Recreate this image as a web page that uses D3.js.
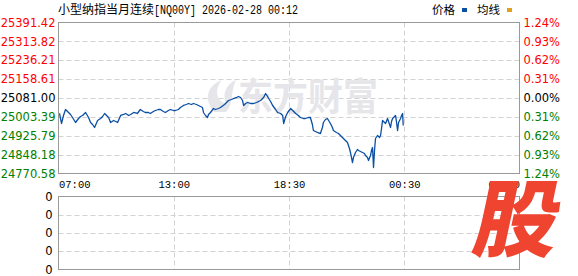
<!DOCTYPE html>
<html>
<head>
<meta charset="utf-8">
<script src="https://cdn.jsdelivr.net/npm/d3@7"></script>
<style>
body { margin: 0; background: #fff; }
svg { display: block; }
</style>
</head>
<body>
<div id="chart"></div>
<script>
// chart data
var titleName = "小型纳指当月连续";
var titleCode = "[NQ00Y] 2026-02-28 00:12";
var legendNames = ["价格", "均线"];
var legendColors = ["#0b4fa3", "#e0a21c"];
var preClose = 25081.00;
var priceTicks = [25391.42, 25313.82, 25236.21, 25158.61, 25081.00, 25003.39, 24925.79, 24848.18, 24770.58];
var pctTicks = ["1.24%", "0.93%", "0.62%", "0.31%", "0.00%", "0.31%", "0.62%", "0.93%", "1.24%"];
var timeLabels = ["07:00", "13:00", "18:30", "00:30", "06:00"];
var volTicks = ["0", "0", "0", "0", "0"];

// minutes after 07:00
var minutes = [3, 9, 15, 21, 30, 36, 42, 51, 60, 66, 72, 81, 90, 96, 102, 108, 117, 126, 132, 138,
  144, 150, 156, 165, 171, 177, 186, 195, 201, 210, 216, 225, 236, 245, 254, 260, 269, 275, 284, 290,
  299, 305, 314, 320, 329, 335, 344, 350, 359, 365, 374, 383, 389, 398, 404, 413, 419, 431, 434, 440,
  446, 449, 455, 464, 470, 479, 485, 497, 509, 518, 524, 533, 539, 545, 551, 554, 560, 566, 575, 584,
  593, 605, 614, 620, 626, 629, 635, 641, 650, 656, 665, 671, 674, 680, 686, 695, 701, 710, 718, 724,
  733, 739, 748, 754, 760, 763, 769, 775, 784, 790, 793, 799, 805, 814, 820, 823, 832, 838, 844, 850,
  859, 865, 871, 874, 877, 880, 883, 889, 895, 898, 904, 910, 916, 919, 925, 928, 934, 937, 940, 943,
  946, 949, 955, 961, 964, 967, 970, 976, 979, 985, 991, 994, 997, 1000, 1006, 1009, 1012, 1015, 1018, 1024,
  1027, 1030, 1032];
var prices = [25017.3, 24976.2, 25009.1, 25033.7, 25021.4, 25013.2, 25000.8, 24980.3, 24996.7, 25004.9,
  25009.1, 25021.4, 25000.8, 24980.3, 24972.1, 24959.7, 24988.5, 24996.7, 25004.9, 25017.3,
  25009.1, 25000.8, 24980.3, 24988.5, 24984.4, 24980.3, 25009.1, 25013.2, 25017.3, 25009.1,
  25013.2, 25021.4, 25017.3, 25033.7, 25025.5, 25021.4, 25021.4, 25017.3, 25025.5, 25029.6,
  25033.7, 25033.7, 25025.5, 25021.4, 25029.6, 25033.7, 25029.6, 25029.6, 25033.7, 25041.9,
  25050.2, 25054.3, 25058.4, 25054.3, 25058.4, 25054.3, 25050.2, 25041.9, 25021.4, 25009.1,
  25000.8, 25013.2, 25021.4, 25037.8, 25033.7, 25037.8, 25041.9, 25054.3, 25070.7, 25074.8,
  25078.9, 25083.1, 25087.2, 25083.1, 25070.7, 25050.2, 25058.4, 25062.5, 25058.4, 25058.4,
  25062.5, 25070.7, 25083.1, 25099.5, 25087.2, 25078.9, 25066.6, 25050.2, 25033.7, 25021.4,
  25017.3, 25009.1, 24976.2, 25004.9, 25021.4, 25037.8, 25029.6, 25017.3, 25009.1, 25000.8,
  24996.7, 24996.7, 25000.8, 25000.8, 24972.1, 24947.4, 24943.3, 24939.2, 24935.0, 24959.7,
  24980.3, 24992.6, 24996.7, 24976.2, 24959.7, 24947.4, 24939.2, 24935.0, 24926.8, 24918.6,
  24906.3, 24898.0, 24873.4, 24856.9, 24836.4, 24815.8, 24836.4, 24856.9, 24869.3, 24865.2,
  24861.0, 24856.9, 24852.8, 24844.6, 24836.4, 24824.0, 24844.6, 24865.2, 24877.5, 24795.3,
  24865.2, 24914.5, 24926.8, 24918.6, 24926.8, 24955.6, 24988.5, 24980.3, 24976.2, 24996.7,
  24972.1, 24959.7, 24984.4, 24996.7, 25004.9, 25009.1, 24980.3, 24947.4, 24980.3, 24996.7,
  25009.1, 25017.3, 24967.9];

var W = 578, H = 276;
var left = 58.5, right = 519.5;
var top1 = 22.5, bot1 = 173.5;
var top2 = 196.5, bot2 = 269.5;

var svg = d3.select("#chart").append("svg")
  .attr("width", W).attr("height", H);

function labelColor(i, mid) {
  if (i < mid) return "#ff0000";
  if (i > mid) return "#008000";
  return "#000";
}

// scales
var x = d3.scaleLinear().domain([0, 1380]).range([left, right]);
var y = d3.scaleLinear().domain([priceTicks[8], priceTicks[0]]).range([bot1, top1]);
var yv = d3.scaleLinear().domain([0, 4]).range([bot2, top2]);
var gridX = d3.range(5).map(function(i) { return i * 345; });

// title + legend
svg.append("text").attr("x", 58).attr("y", 14)
  .style("font-family", "'Noto Sans CJK SC'").style("font-size", "12px")
  .text(titleName);
svg.append("text").attr("x", 154).attr("y", 14)
  .attr("textLength", 144).attr("lengthAdjust", "spacingAndGlyphs")
  .style("font-family", "'Liberation Mono'").style("font-size", "12px")
  .text(titleCode);

var legX = [432, 477];
legendNames.forEach(function(n, i) {
  svg.append("text").attr("x", legX[i]).attr("y", 14)
    .style("font-family", "'Noto Sans CJK SC'").style("font-size", "11.5px")
    .text(n);
  svg.append("rect").attr("x", legX[i] + 30).attr("y", 8)
    .attr("width", 5).attr("height", 4).attr("fill", legendColors[i]);
});

// main panel grid
var g1 = svg.append("g");
g1.selectAll(".hg").data(priceTicks.slice(1, 8)).enter().append("line")
  .attr("x1", left).attr("x2", right)
  .attr("y1", function(d) { return Math.round(y(d)) + 0.5; })
  .attr("y2", function(d) { return Math.round(y(d)) + 0.5; })
  .attr("stroke", "#d2d2d2").attr("stroke-dasharray", "5,3");
g1.selectAll(".vg").data(gridX.slice(1, 4)).enter().append("line")
  .attr("x1", function(d) { return Math.round(x(d)) + 0.5; })
  .attr("x2", function(d) { return Math.round(x(d)) + 0.5; })
  .attr("y1", top1).attr("y2", bot1)
  .attr("stroke", "#d2d2d2").attr("stroke-dasharray", "5,3");

// watermark
var wm = svg.append("g").attr("fill", "#e6e6ea");
wm.append("path")
  .attr("d", "M214,112 C204,100 206,86 222,80 C214,90 216,100 226,104 C222,94 226,84 236,80 C230,92 234,104 226,112 Z");
wm.append("text").attr("x", 238).attr("y", 110)
  .attr("textLength", 140).attr("lengthAdjust", "spacingAndGlyphs")
  .style("font-family", "'Noto Sans CJK SC'").style("font-size", "38px").style("font-weight", "bold")
  .text("东方财富");

// price line
var line = d3.line()
  .x(function(d, i) { return x(minutes[i]); })
  .y(function(d) { return y(d); });
svg.append("path").datum(prices)
  .attr("d", line)
  .attr("fill", "none")
  .attr("stroke", "#0b4fa3")
  .attr("stroke-width", 1.3)
  .attr("stroke-linejoin", "round");

svg.append("rect").attr("x", left).attr("y", top1)
  .attr("width", right - left).attr("height", bot1 - top1)
  .attr("fill", "none").attr("stroke", "#999");

// left axis
var yAxisL = svg.append("g").attr("transform", "translate(" + left + ",0)")
  .call(d3.axisLeft(y).tickValues(priceTicks).tickSize(0).tickPadding(3)
    .tickFormat(function(d) { return d.toFixed(2); }));
yAxisL.select(".domain").remove();
yAxisL.selectAll("text")
  .style("font-family", "'DejaVu Sans'").style("font-size", "11.5px")
  .attr("fill", function(d, i) { return labelColor(i, 4); });

// right axis
var yAxisR = svg.append("g").attr("transform", "translate(" + right + ",0)")
  .call(d3.axisRight(y).tickValues(priceTicks).tickSize(0).tickPadding(4)
    .tickFormat(function(d, i) { return pctTicks[i]; }));
yAxisR.select(".domain").remove();
yAxisR.selectAll("text")
  .style("font-family", "'DejaVu Sans'").style("font-size", "11.5px")
  .attr("fill", function(d, i) { return labelColor(i, 4); });

// time axis
var xAxis = svg.append("g").attr("transform", "translate(0," + bot1 + ")")
  .call(d3.axisBottom(x).tickValues(gridX).tickSize(0).tickPadding(7)
    .tickFormat(function(d, i) { return timeLabels[i]; }));
xAxis.select(".domain").remove();
xAxis.selectAll("text")
  .style("font-family", "'Liberation Mono'").style("font-size", "10.5px").attr("fill", "#000")
  .attr("text-anchor", function(d, i) { return i == 0 ? "start" : (i == 4 ? "end" : "middle"); });

// volume panel
var g2 = svg.append("g");
g2.selectAll(".hg").data([1, 2, 3]).enter().append("line")
  .attr("x1", left).attr("x2", right)
  .attr("y1", function(d) { return Math.round(yv(d)) + 0.5; })
  .attr("y2", function(d) { return Math.round(yv(d)) + 0.5; })
  .attr("stroke", "#d2d2d2").attr("stroke-dasharray", "5,3");
g2.selectAll(".vg").data(gridX.slice(1, 4)).enter().append("line")
  .attr("x1", function(d) { return Math.round(x(d)) + 0.5; })
  .attr("x2", function(d) { return Math.round(x(d)) + 0.5; })
  .attr("y1", top2).attr("y2", bot2)
  .attr("stroke", "#d2d2d2").attr("stroke-dasharray", "5,3");
svg.append("rect").attr("x", left).attr("y", top2)
  .attr("width", right - left).attr("height", bot2 - top2)
  .attr("fill", "none").attr("stroke", "#999");

var yAxisV = svg.append("g").attr("transform", "translate(" + (left - 3) + ",0)")
  .call(d3.axisLeft(yv).tickValues([0, 1, 2, 3, 4]).tickSize(0).tickPadding(3)
    .tickFormat(function(d) { return volTicks[d]; }));
yAxisV.select(".domain").remove();
yAxisV.selectAll("text")
  .style("font-family", "'DejaVu Sans'").style("font-size", "11.5px").attr("fill", "#000");

// corner badge
svg.append("text")
  .attr("transform", "translate(470,250) skewX(-12)")
  .style("font-family", "'Noto Sans CJK SC'").style("font-size", "84px").style("font-weight", "900")
  .attr("fill", "#ee4430")
  .text("股");
</script>
</body>
</html>
